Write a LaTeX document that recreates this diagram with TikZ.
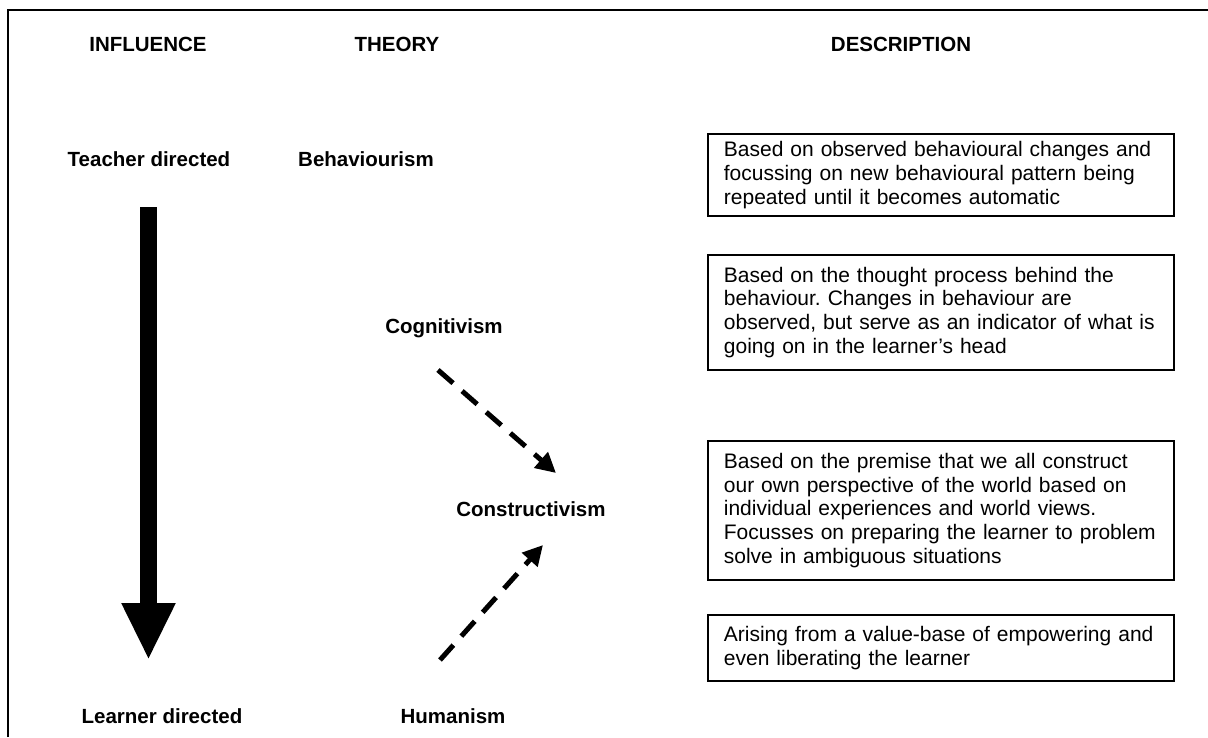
\documentclass[tikz,border=0pt]{standalone}
\usepackage{fontspec}
\setmainfont{Liberation Sans}
\usetikzlibrary{arrows.meta}
\frenchspacing
\begin{document}
\begin{tikzpicture}[x=1pt,y=-1pt,
  head/.style={font=\fontsize{20.5}{24}\selectfont\bfseries, inner sep=0pt},
  desc/.style={draw, line width=1.8pt, anchor=north west, align=left, text width=434pt,
    inner xsep=16pt, inner ysep=0pt, font=\fontsize{21}{23.8}\selectfont\frenchspacing},
  dasharrow/.style={line width=5pt, dash pattern=on 20pt off 12pt,
    -{Triangle[length=20pt,width=20pt]}},
  bigarrow/.style={line width=17pt, -{Triangle[length=57pt,width=50pt]}}
]
\useasboundingbox (0,0) rectangle (1208,737);
\draw[line width=2pt] (8,737) -- (8,10) -- (1208,10);

% headings
\node[head] (hinf) at (148,44) {INFLUENCE};
\node[head] (htheo) at (397,44) {THEORY};
\node[head] (hdesc) at (901,44) {DESCRIPTION};

% influence
\node[head] (teacher) at (149,159) {Teacher directed};
\node[head] (learner) at (162,716) {Learner directed};

% theories
\node[head] (beh) at (366,159) {Behaviourism};
\node[head] (cog) at (444,328) {Cognitivism};
\node[head] (con) at (531,509) {Constructivism};
\node[head] (hum) at (453,716) {Humanism};

% descriptions
\node[desc, minimum height=82pt] (d1) at (707,133)
  {Based on observed behavioural changes and\\focussing on new behavioural pattern being\\repeated until it becomes automatic};
\node[desc, minimum height=115pt] (d2) at (707,254)
  {Based on the thought process behind the\\behaviour. Changes in behaviour are\\observed, but serve as an indicator of what is\\going on in the learner’s head};
\node[desc, minimum height=139pt] (d3) at (707,440)
  {Based on the premise that we all construct\\our own perspective of the world based on\\individual experiences and world views.\\Focusses on preparing the learner to problem\\solve in ambiguous situations};
\node[desc, minimum height=66pt] (d4) at (707,614)
  {Arising from a value-base of empowering and\\even liberating the learner};

% big arrow
\coordinate (bigtop) at (148.5,207);
\coordinate (bigtip) at (148.5,660);
\draw[bigarrow] (bigtop) -- (bigtip);

% dashed arrows
\coordinate (c1s) at (438,370);
\coordinate (c1e) at (556,473);
\coordinate (c2s) at (440,660);
\coordinate (c2e) at (543,545);
\draw[dasharrow] (c1s) -- (c1e);
\draw[dasharrow] (c2s) -- (c2e);
\end{tikzpicture}
\end{document}
